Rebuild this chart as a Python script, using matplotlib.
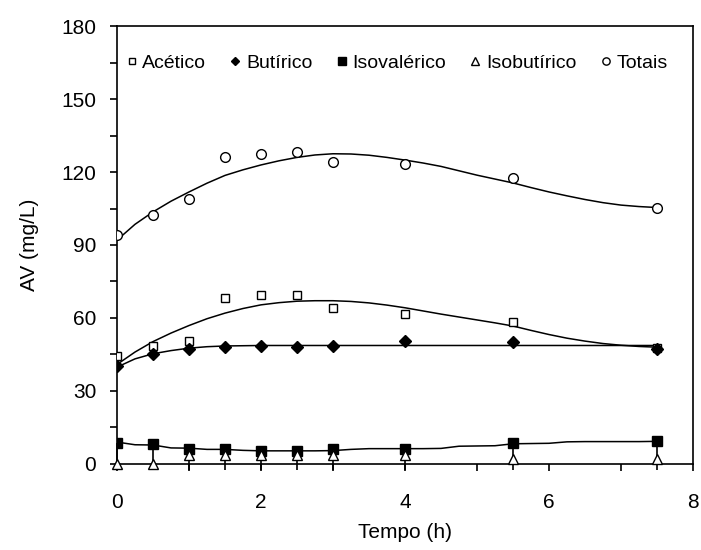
import matplotlib
matplotlib.use("Agg")
import matplotlib.pyplot as plt
import numpy as np

plt.rcParams['font.family'] = ['Liberation Sans', 'DejaVu Sans']

tempo = [0, 0.5, 1, 1.5, 2, 2.5, 3, 4, 5.5, 7.5]

acetico = [44.5, 48.5, 50.5, 68.3, 69.4, 69.4, 64.3, 61.5, 58.3, 47.8]
butirico = [40.2, 45.3, 47.3, 48.2, 48.6, 48.2, 48.6, 50.7, 50.2, 47.3]
isovalerico = [8.7, 8.2, 6.2, 6.2, 5.5, 5.5, 6.0, 6.2, 8.7, 9.3]
isobutirico = [0, 0, 3.6, 3.6, 3.6, 3.6, 3.6, 3.6, 2.0, 2.0]
totais = [94.1, 102.5, 109.1, 126.1, 127.5, 128.2, 124.1, 123.4, 117.5, 105.3]

# error bars drawn on the isobutyric series (lower / upper)
isobut_err_low = [0, 0, 6.0, 6.0, 6.0, 6.0, 6.0, 6.0, 4.5, 4.5]
isobut_err_high = [8.5, 8.0, 2.5, 2.5, 1.9, 1.9, 2.4, 2.6, 6.6, 7.2]

# trend lines
trend_x = [0, 0.25, 0.5, 0.75, 1, 1.25, 1.5, 1.75, 2, 2.25, 2.5, 2.75, 3, 3.25, 3.5,
           3.75, 4, 4.25, 4.5, 4.75, 5, 5.25, 5.5, 5.75, 6, 6.25, 6.5, 6.75, 7, 7.25, 7.5]
trend_totais = [92.0, 98.5, 103.6, 108.0, 111.8, 115.4, 118.6, 120.9, 122.9, 124.6, 126.0, 127.0,
                127.5, 127.4, 126.9, 126.0, 124.9, 123.7, 122.3, 120.5, 118.7, 117.1, 115.5,
                113.6, 111.8, 110.2, 108.7, 107.4, 106.4, 105.8, 105.4]
trend_acetico = [40.9, 46.0, 50.3, 53.8, 56.9, 59.7, 62.0, 63.9, 65.4, 66.3, 66.9, 67.1,
                 67.1, 66.8, 66.2, 65.3, 64.2, 62.9, 61.6, 60.4, 59.2, 58.0, 56.7, 54.9,
                 53.2, 51.7, 50.5, 49.5, 48.8, 48.3, 48.0]
trend_butirico = [39.8, 43.2, 45.3, 46.6, 47.6, 48.2, 48.5, 48.6, 48.7, 48.7, 48.7, 48.7,
                  48.7, 48.7, 48.7, 48.7, 48.7, 48.7, 48.7, 48.7, 48.7, 48.7, 48.7, 48.7,
                  48.7, 48.7, 48.7, 48.7, 48.7, 48.7, 48.7]
trend_isovalerico = [9.0, 7.9, 7.8, 6.6, 6.5, 6.0, 6.0, 5.6, 5.4, 5.4, 5.4, 5.4,
                     5.5, 6.0, 6.3, 6.3, 6.3, 6.3, 6.4, 7.3, 7.4, 7.5, 8.3, 8.4,
                     8.5, 9.1, 9.2, 9.2, 9.2, 9.2, 9.3]

fig = plt.figure(figsize=(7.01, 5.5), dpi=100)
ax = fig.add_axes([0.1669, 0.1564, 0.8217, 0.7963])

for tr in [trend_totais, trend_acetico, trend_butirico, trend_isovalerico]:
    ax.plot(trend_x, tr, color='black', lw=1.1, zorder=2)

ax.errorbar(tempo, isobutirico, yerr=[isobut_err_low, isobut_err_high], fmt='none',
            ecolor='black', elinewidth=1.2, capsize=0, zorder=3, clip_on=False)

ax.plot(tempo, acetico, 's', ms=6, mfc='white', mec='black', mew=1.0, label='Acético', zorder=4)
ax.plot(tempo, butirico, 'D', ms=6, mfc='black', mec='black', label='Butírico', zorder=4)
ax.plot(tempo, isovalerico, 's', ms=7, mfc='black', mec='black', label='Isovalérico', zorder=4)
ax.plot(tempo, isobutirico, '^', ms=7, mfc='white', mec='black', mew=1.0, label='Isobutírico',
        zorder=4, clip_on=False)
ax.plot(tempo, totais, 'o', ms=7, mfc='white', mec='black', mew=1.0, label='Totais', zorder=4)

ax.set_xlim(0, 8)
ax.set_ylim(0, 180)
ax.set_xticks([0, 2, 4, 6, 8])
ax.set_xticks([1, 3, 5, 7], minor=True)
ax.set_yticks([0, 30, 60, 90, 120, 150, 180])
ax.set_yticks([15, 45, 75, 105, 135, 165], minor=True)
ax.tick_params(which='both', direction='out', length=5, width=1.2, labelsize=15, color='black')
ax.tick_params(axis='x', pad=16)
ax.tick_params(axis='y', pad=10)
for sp in ax.spines.values():
    sp.set_linewidth(1.2)

ax.set_xlabel('Tempo (h)', fontsize=15, labelpad=8)
ax.set_ylabel('AV (mg/L)', fontsize=15, labelpad=16)

ax.legend(loc='center left', ncol=5, frameon=False, fontsize=14, handletextpad=0.05,
          columnspacing=1.0, markerscale=0.75, handlelength=1.0,
          bbox_to_anchor=(-0.005, 0.9155), borderaxespad=0)

fig.savefig('out.png', dpi=100)
